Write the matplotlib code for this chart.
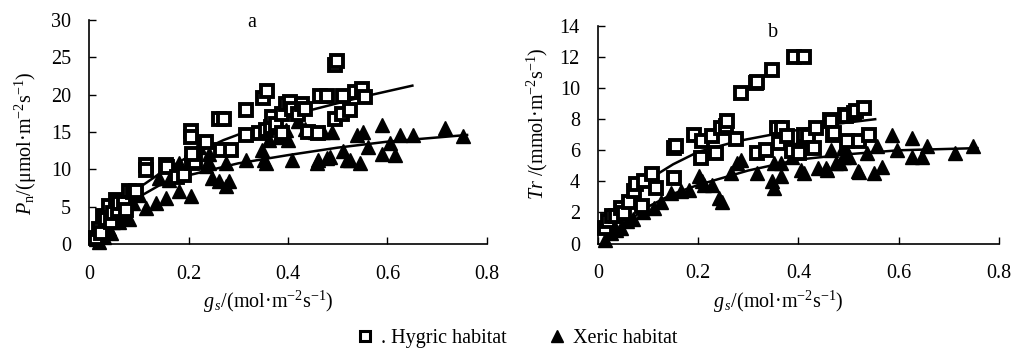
import matplotlib
matplotlib.use("Agg")
import matplotlib.pyplot as plt
from matplotlib.lines import Line2D

plt.rcParams['font.family'] = ['Liberation Serif', 'DejaVu Serif']
plt.rcParams['mathtext.fontset'] = 'custom'
plt.rcParams['mathtext.rm'] = 'Liberation Serif'
plt.rcParams['mathtext.it'] = 'Liberation Serif:italic'

# ---------------- data: panel a (Pn vs gs) ----------------
a_hyg_x = [0.015, 0.021, 0.025, 0.028, 0.035, 0.041, 0.045, 0.048, 0.055, 0.058, 0.061, 0.07, 0.075,
           0.081, 0.089, 0.095, 0.115, 0.115, 0.155, 0.156, 0.176, 0.191, 0.208, 0.213, 0.206, 0.206,
           0.208, 0.235, 0.261, 0.272, 0.265, 0.285, 0.315, 0.315, 0.341, 0.35, 0.358, 0.355, 0.365,
           0.368, 0.375, 0.388, 0.388, 0.395, 0.405, 0.408, 0.421, 0.428, 0.435, 0.441, 0.461, 0.465,
           0.478, 0.495, 0.498, 0.495, 0.508, 0.511, 0.525, 0.535, 0.548, 0.555]
a_hyg_y = [0.8, 2.0, 1.5, 3.75, 3.3, 5.07, 3.0, 4.2, 5.95, 4.5, 5.5, 5.5, 4.5,
           7.06, 7.0, 7.06, 10.6, 9.9, 10.6, 10.3, 9.0, 9.3, 10.8, 11.0, 15.1, 14.3,
           12.1, 13.7, 16.8, 16.8, 12.6, 12.6, 17.9, 14.6, 14.8, 19.6, 20.5, 15.2, 15.7,
           17.0, 16.1, 17.4, 14.8, 18.75, 19.0, 18.1, 17.4, 18.75, 18.1, 15.0, 14.8, 19.85,
           19.85, 24.0, 24.5, 16.8, 17.4, 19.85, 17.9, 20.4, 20.8, 19.7]

a_xer_x = [0.015, 0.02, 0.028, 0.03, 0.035, 0.04, 0.045, 0.048, 0.05, 0.055, 0.06, 0.065, 0.068, 0.07,
           0.075, 0.08, 0.088, 0.1, 0.115, 0.135, 0.141, 0.155, 0.161, 0.181, 0.181, 0.205, 0.221, 0.235,
           0.241, 0.241, 0.248, 0.261, 0.275, 0.281, 0.275, 0.315, 0.348, 0.351, 0.355, 0.361,
           0.381, 0.395, 0.401, 0.408, 0.421, 0.435, 0.455, 0.458, 0.461, 0.471, 0.478, 0.484,
           0.488, 0.511, 0.518, 0.525, 0.538, 0.545, 0.551, 0.561, 0.588, 0.588, 0.605, 0.615,
           0.625, 0.652, 0.716, 0.752]
a_xer_y = [0.66, 0.3, 1.5, 0.9, 2.4, 2.0, 1.5, 2.9, 3.8, 3.5, 3.0, 4.8, 4.2, 5.2,
           3.8, 3.3, 5.5, 6.5, 4.85, 5.5, 8.8, 6.2, 8.6, 7.06, 10.8, 6.4, 13.0, 10.4,
           12.1, 10.8, 8.8, 8.4, 7.7, 8.4, 10.8, 11.25, 12.6, 11.25, 10.8, 13.9,
           14.3, 15.2, 13.9, 11.25, 16.5, 15.4, 15.0, 10.8, 11.2, 15.0, 11.5, 11.7,
           15.0, 12.4, 11.25, 11.2, 14.6, 10.8, 15.0, 13.0, 15.9, 12.1, 13.5, 11.9,
           14.6, 14.6, 15.5, 14.4]

a_hyg_fit_x = [0.03, 0.06, 0.1, 0.15, 0.2, 0.27, 0.35, 0.45, 0.55, 0.65]
a_hyg_fit_y = [2.0, 5.0, 7.5, 9.8, 11.7, 13.9, 15.9, 18.0, 19.7, 21.2]
a_xer_fit_x = [0.02, 0.05, 0.09, 0.14, 0.2, 0.3, 0.4, 0.5, 0.6, 0.76]
a_xer_fit_y = [0.5, 3.7, 5.9, 7.8, 9.2, 10.8, 11.9, 12.9, 13.7, 14.6]

# ---------------- data: panel b (Tr vs gs) ----------------
b_hyg_x = [0.015, 0.021, 0.028, 0.035, 0.045, 0.051, 0.061, 0.071, 0.075, 0.088, 0.091, 0.108, 0.115,
           0.151, 0.155, 0.151, 0.191, 0.205, 0.208, 0.228, 0.235, 0.245, 0.255, 0.258, 0.275,
           0.285, 0.315, 0.318, 0.318, 0.335, 0.348, 0.358, 0.361, 0.368, 0.378, 0.388, 0.392,
           0.401, 0.41, 0.411, 0.418, 0.431, 0.435, 0.463, 0.465, 0.468, 0.47, 0.493, 0.495,
           0.496, 0.51, 0.515, 0.521, 0.53, 0.54]
b_hyg_y = [1.0, 1.42, 1.8, 1.74, 2.28, 1.96, 2.7, 3.36, 3.8, 2.4, 4.0, 4.5, 3.57,
           6.15, 6.26, 4.2, 7.0, 5.5, 6.58, 6.9, 5.83, 7.44, 7.55, 7.87, 6.7,
           9.7, 10.3, 10.4, 5.83, 6.04, 11.15, 7.44, 6.47, 7.44, 6.9, 5.93, 12.0,
           5.83, 12.0, 7.0, 6.9, 6.15, 7.44, 7.97, 7.87, 7.0, 7.1, 8.29, 8.19,
           6.57, 8.4, 8.5, 6.58, 8.72, 7.0]

b_xer_x = [0.015, 0.025, 0.035, 0.045, 0.058, 0.07, 0.09, 0.111, 0.125, 0.145, 0.165, 0.181, 0.201,
           0.208, 0.211, 0.228, 0.241, 0.248, 0.265, 0.278, 0.285, 0.318, 0.348, 0.351, 0.351,
           0.365, 0.365, 0.388, 0.405, 0.405, 0.411, 0.421, 0.438, 0.455, 0.456, 0.465, 0.475,
           0.483, 0.49, 0.491, 0.5, 0.518, 0.52, 0.536, 0.55, 0.556, 0.566, 0.586, 0.596, 0.626,
           0.626, 0.646, 0.656, 0.713, 0.749]
b_xer_y = [0.24, 0.67, 0.88, 0.99, 1.42, 1.6, 2.0, 2.28, 2.7, 3.25, 3.36, 3.46, 4.32,
           4.0, 3.78, 3.78, 2.92, 2.7, 4.54, 5.18, 5.4, 4.54, 4.0, 3.57, 5.18,
           4.32, 5.18, 5.6, 4.75, 6.7, 4.54, 6.26, 4.86, 4.86, 4.74, 6.04, 5.18,
           5.17, 6.25, 5.6, 5.6, 4.65, 4.63, 5.82, 4.53, 6.25, 4.95, 7.0, 6.03, 6.79,
           5.6, 5.6, 6.25, 5.82, 6.25]

b_hyg_fit_x = [0.02, 0.05, 0.1, 0.15, 0.2, 0.28, 0.357, 0.45, 0.553]
b_hyg_fit_y = [1.0, 2.5, 4.1, 5.1, 5.9, 6.6, 7.07, 7.6, 8.0]
b_xer_fit_x = [0.02, 0.05, 0.1, 0.15, 0.2, 0.3, 0.4, 0.5, 0.6, 0.757]
b_xer_fit_y = [0.2, 1.2, 2.37, 3.2, 3.77, 4.7, 5.4, 5.75, 6.0, 6.14]

x_ticks = [0, 0.2, 0.4, 0.6, 0.8]
x_ticklabels = ['0', '0.2', '0.4', '0.6', '0.8']

FS = 14.5

fig = plt.figure(figsize=(10.22, 3.58), dpi=100)
axA = fig.add_axes([0.0871, 0.3184, 0.3894, 0.626])
axB = fig.add_axes([0.5851, 0.3198, 0.3924, 0.6076])

sq_kw = dict(marker='s', linestyle='none', markersize=8.5, markerfacecolor='white',
             markeredgecolor='black', markeredgewidth=2.8)
tr_kw = dict(marker='^', linestyle='none', markersize=9.5, color='black')

def style(ax, ymax, ystep):
    ax.set_xlim(0, 0.8)
    ax.set_ylim(0, ymax)
    ax.set_xticks(x_ticks)
    ax.set_xticklabels(x_ticklabels)
    ax.set_yticks(list(range(0, ymax + 1, ystep)))
    for s in ['top', 'right']:
        ax.spines[s].set_visible(False)
    for s in ['left', 'bottom']:
        ax.spines[s].set_linewidth(1.2)
    ax.tick_params(axis='both', direction='in', length=5, width=1.0, labelsize=FS)
    ax.tick_params(axis='x', pad=15)
    ax.tick_params(axis='y', pad=13)

# panel a
axA.plot(a_hyg_fit_x, a_hyg_fit_y, color='black', lw=1.8, zorder=3)
axA.plot(a_xer_fit_x, a_xer_fit_y, color='black', lw=1.8, zorder=3)
axA.plot(a_xer_x, a_xer_y, clip_on=False, zorder=4, **tr_kw)
axA.plot(a_hyg_x, a_hyg_y, clip_on=False, zorder=5, **sq_kw)
style(axA, 30, 5)
axA.text(0.328, 29.7, 'a', ha='center', va='center', fontsize=FS)
axA.set_xlabel(r'$g_{\,s}$/(mol·m$^{-2}$s$^{-1}$)', fontsize=FS)
axA.xaxis.set_label_coords(0.45, -0.2)
axA.set_ylabel(r'$P_{\mathrm{n}}$/(μmol·m$^{-2}$s$^{-1}$)', fontsize=FS)
axA.yaxis.set_label_coords(-0.125, 0.45)

# panel b
axB.plot(b_hyg_fit_x, b_hyg_fit_y, color='black', lw=1.8, zorder=3)
axB.plot(b_xer_fit_x, b_xer_fit_y, color='black', lw=1.8, zorder=3)
axB.plot(b_xer_x, b_xer_y, clip_on=False, zorder=4, **tr_kw)
axB.plot(b_hyg_x, b_hyg_y, clip_on=False, zorder=5, **sq_kw)
style(axB, 14, 2)
axB.text(0.349, 13.6, 'b', ha='center', va='center', fontsize=FS)
axB.set_xlabel(r'$g_{\,s}$/(mol·m$^{-2}$s$^{-1}$)', fontsize=FS)
axB.xaxis.set_label_coords(0.45, -0.21)
axB.set_ylabel(r'$Tr$ /(mmol·m$^{-2}$s$^{-1}$)', fontsize=FS)
axB.yaxis.set_label_coords(-0.12, 0.55)

handles = [Line2D([], [], marker='s', linestyle='none', markersize=7, markerfacecolor='white',
                  markeredgecolor='black', markeredgewidth=2.2),
           Line2D([], [], marker='^', linestyle='none', markersize=8.5, color='black')]
fig.legend(handles, ['. Hygric habitat', 'Xeric habitat'], loc='center',
           bbox_to_anchor=(0.505, 0.055), ncol=2, frameon=False, fontsize=FS,
           handletextpad=0.3, columnspacing=2.0, handlelength=1.0)

fig.savefig('out.png', dpi=100)
